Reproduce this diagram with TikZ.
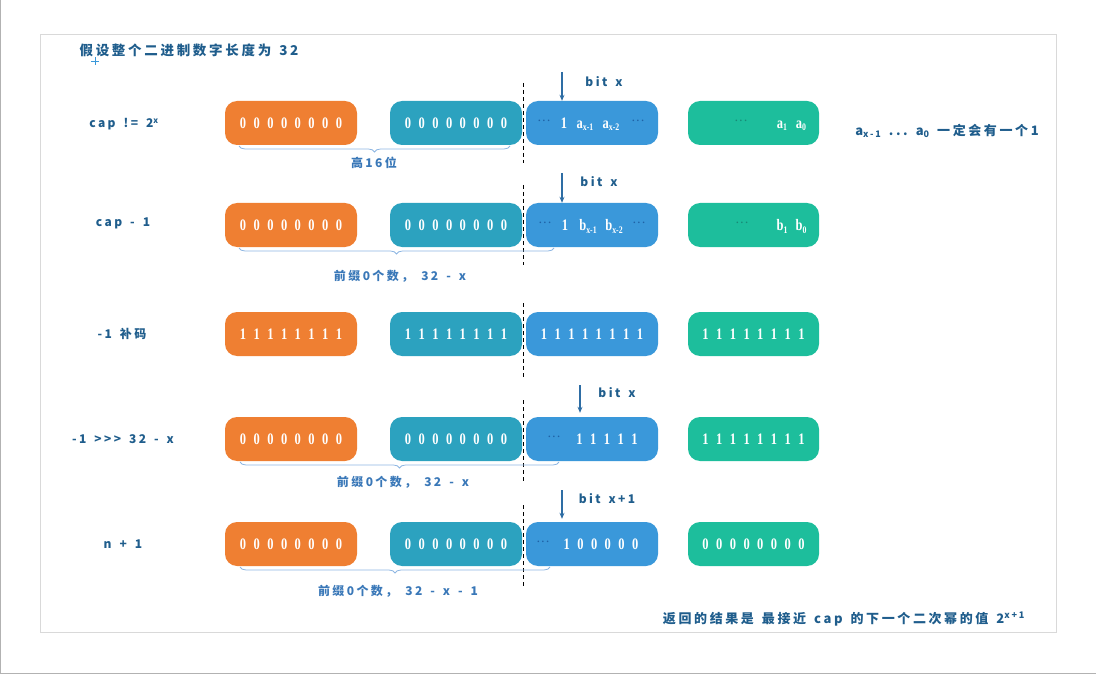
\documentclass[tikz,border=0pt]{standalone}
\usepackage{fontspec}
\setmainfont{Liberation Serif}
\newfontfamily\cjk[LetterSpace=20]{Noto Sans CJK SC}
\newfontfamily\bitfont[FakeStretch=0.78]{Liberation Serif}
\usetikzlibrary{decorations.pathreplacing,arrows.meta}
\definecolor{cor}{HTML}{EF7F32}
\definecolor{cte}{HTML}{2CA2BF}
\definecolor{cbl}{HTML}{3A98DA}
\definecolor{cgr}{HTML}{1DBE9C}
\definecolor{lbl}{HTML}{1F5D8C}
\definecolor{brc}{HTML}{8DB6E2}
\definecolor{brl}{HTML}{3A78B8}
\definecolor{frm}{HTML}{D9D9D9}
\definecolor{dotb}{HTML}{1F62A6}
\definecolor{dotg}{HTML}{178A76}
\definecolor{arrc}{HTML}{2E6DA4}
\newcommand\sbx[1]{\raisebox{-2.5pt}{\fontsize{10}{10}\selectfont #1}}
\newcommand\sbl[1]{\raisebox{-2.5pt}{\fontsize{9}{9}\selectfont #1}}
\newcommand\bitsel{\bitfont\bfseries\fontsize{16}{16}\selectfont\spaceskip 7.5pt plus 0pt minus 0pt\relax}
\newcommand\labsel[1]{\cjk\bfseries\fontsize{#1}{#1}\selectfont\spaceskip 8pt plus 0pt minus 0pt\xspaceskip 8pt\relax}
\newcommand\labA{\labsel{12}}
\newcommand\labT{\labsel{13.5}}
\newcommand\labR{\labsel{13}}
\tikzset{
  bitbox/.style={rounded corners=12pt, minimum width=132pt, minimum height=44pt, inner sep=0pt, text=white, font=\bitsel},
  bt/.style={anchor=base, inner sep=0pt, text=white, font=\bitsel},
  dt/.style={inner sep=0pt, font=\fontsize{14}{14}\selectfont},
  lab/.style={inner sep=0pt, text=lbl, font=\labA},
  brlab/.style={inner sep=0pt, text=brl, font=\labA},
  brc/.style={draw=brc, line width=0.8pt, decorate, decoration={brace, mirror, amplitude=6pt}},
  dline/.style={draw=black, line width=1pt, dash pattern=on 4pt off 3pt},
  arr/.style={draw=arrc, line width=1.1pt, -{Stealth[length=6pt,width=5pt]}}
}
\begin{document}
\begin{tikzpicture}[x=1pt,y=-1pt]
\useasboundingbox (0,0) rectangle (1096,674);
% outer window edges
\draw[draw=black!30, line width=1pt] (0.5,0) -- (0.5,673) -- (1096,673);
% inner frame
\draw[draw=frm, line width=1pt] (40,35) rectangle (1056,632);
% cursor mark
\draw[draw=cbl, line width=0.7pt] (91,61) -- (99,61) (95,57) -- (95,65);

% title
\node[lab, font=\labT] (title) at (189,50) {假设整个二进制数字长度为 32};

% ===== Row 1 =====
\node[bitbox, fill=cor] (o1) at (291,123) {0 0 0 0 0 0 0 0};
\node[bitbox, fill=cte] (t1) at (456,123) {0 0 0 0 0 0 0 0};
\node[bitbox, fill=cbl] (b1) at (592,123) {};
\node[bitbox, fill=cgr, minimum width=131pt] (g1) at (753.5,123) {};
\node[dt, text=dotb] (b1d1) at (544,123) {···};
\node[bt] (b1one) at (564,128.5) {1};
\node[bt] (b1a1) at (585,128.5) {a\sbx{x-1}};
\node[bt] (b1a2) at (611,128.5) {a\sbx{x-2}};
\node[dt, text=dotb] (b1d2) at (638,123) {···};
\node[dt, text=dotg] (g1d) at (741,123) {···};
\node[bt] (g1a1) at (782,128.5) {a\sbx{1}};
\node[bt] (g1a0) at (801,128.5) {a\sbx{0}};
\node[lab] (l1) at (124,124) {cap != 2\textsuperscript{x}};
\coordinate (d1a) at (523,83); \coordinate (d1b) at (523,163);
\draw[dline] (d1a) -- (d1b);
\coordinate (ar1) at (562,72);
\draw[arr] (ar1) -- (ar1 |- b1.north);
\node[lab] (bx1) at (604,82) {bit x};
\coordinate (br1a) at (239,146); \coordinate (br1b) at (510,146);
\draw[brc] (br1a) -- (br1b);
\node[brlab] (bl1) at (374,163) {高16位};
\node[lab, font=\labR] (note) at (947,131) {a\sbl{x-1} ... a\sbl{0} 一定会有一个1};

% ===== Row 2 =====
\node[bitbox, fill=cor] (o2) at (291,225) {0 0 0 0 0 0 0 0};
\node[bitbox, fill=cte] (t2) at (456,225) {0 0 0 0 0 0 0 0};
\node[bitbox, fill=cbl] (b2) at (592,225) {};
\node[bitbox, fill=cgr, minimum width=131pt] (g2) at (753.5,225) {};
\node[dt, text=dotb] (b2d1) at (545,225) {···};
\node[bt] (b2one) at (565,230.5) {1};
\node[bt] (b2a1) at (588,230.5) {b\sbx{x-1}};
\node[bt] (b2a2) at (614,230.5) {b\sbx{x-2}};
\node[dt, text=dotb] (b2d2) at (639,225) {···};
\node[dt, text=dotg] (g2d) at (742,225) {···};
\node[bt] (g2a1) at (782,230.5) {b\sbx{1}};
\node[bt] (g2a0) at (801,230.5) {b\sbx{0}};
\node[lab] (l2) at (123,223) {cap - 1};
\coordinate (d2a) at (523,185); \coordinate (d2b) at (523,265);
\draw[dline] (d2a) -- (d2b);
\coordinate (ar2) at (562,173);
\draw[arr] (ar2) -- (ar2 |- b2.north);
\node[lab] (bx2) at (599,182) {bit x};
\coordinate (br2a) at (239,248); \coordinate (br2b) at (554,248);
\draw[brc] (br2a) -- (br2b);
\node[brlab] (bl2) at (400,276) {前缀0个数， 32 - x};

% ===== Row 3 =====
\node[bitbox, fill=cor] (o3) at (291,334) {1 1 1 1 1 1 1 1};
\node[bitbox, fill=cte] (t3) at (456,334) {1 1 1 1 1 1 1 1};
\node[bitbox, fill=cbl] (b3) at (592,334) {1 1 1 1 1 1 1 1};
\node[bitbox, fill=cgr, minimum width=131pt] (g3) at (753.5,334) {1 1 1 1 1 1 1 1};
\node[lab] (l3) at (122,334) {-1 补码};
\coordinate (d3a) at (523,303); \coordinate (d3b) at (523,378);
\draw[dline] (d3a) -- (d3b);

% ===== Row 4 =====
\node[bitbox, fill=cor] (o4) at (291,439) {0 0 0 0 0 0 0 0};
\node[bitbox, fill=cte] (t4) at (456,439) {0 0 0 0 0 0 0 0};
\node[bitbox, fill=cbl] (b4) at (592,439) {};
\node[bitbox, fill=cgr, minimum width=131pt] (g4) at (753.5,439) {1 1 1 1 1 1 1 1};
\node[dt, text=dotb] (b4d) at (554,439) {···};
\node[bt] (b4t) at (607,444.5) {1 1 1 1 1};
\node[lab] (l4) at (123,439) {-1 >>> 32 - x};
\coordinate (d4a) at (523,400); \coordinate (d4b) at (523,483);
\draw[dline] (d4a) -- (d4b);
\coordinate (ar4) at (580,385);
\draw[arr] (ar4) -- ([yshift=4pt]ar4 |- b4.north);
\node[lab] (bx4) at (617,393) {bit x};
\coordinate (br4a) at (240,462); \coordinate (br4b) at (559,462);
\draw[brc] (br4a) -- (br4b);
\node[brlab] (bl4) at (403,482) {前缀0个数， 32 - x};

% ===== Row 5 =====
\node[bitbox, fill=cor] (o5) at (291,544) {0 0 0 0 0 0 0 0};
\node[bitbox, fill=cte] (t5) at (456,544) {0 0 0 0 0 0 0 0};
\node[bitbox, fill=cbl] (b5) at (592,544) {};
\node[bitbox, fill=cgr, minimum width=131pt] (g5) at (753.5,544) {0 0 0 0 0 0 0 0};
\node[dt, text=dotb] (b5d) at (543,544) {···};
\node[bt] (b5t) at (601,549.5) {1 0 0 0 0 0};
\node[lab] (l5) at (123,544) {n + 1};
\coordinate (d5a) at (523,505); \coordinate (d5b) at (523,588);
\draw[dline] (d5a) -- (d5b);
\coordinate (ar5) at (562,490);
\draw[arr] (ar5) -- ([yshift=3pt]ar5 |- b5.north);
\node[lab] (bx5) at (607,499) {bit x+1};
\coordinate (br5a) at (240,567); \coordinate (br5b) at (550,567);
\draw[brc] (br5a) -- (br5b);
\node[brlab] (bl5) at (398,591) {前缀0个数， 32 - x - 1};

% bottom note
\node[lab, font=\labR] (res) at (844,619) {返回的结果是 最接近 cap 的下一个二次幂的值 2\textsuperscript{x+1}};
\end{tikzpicture}
\end{document}
